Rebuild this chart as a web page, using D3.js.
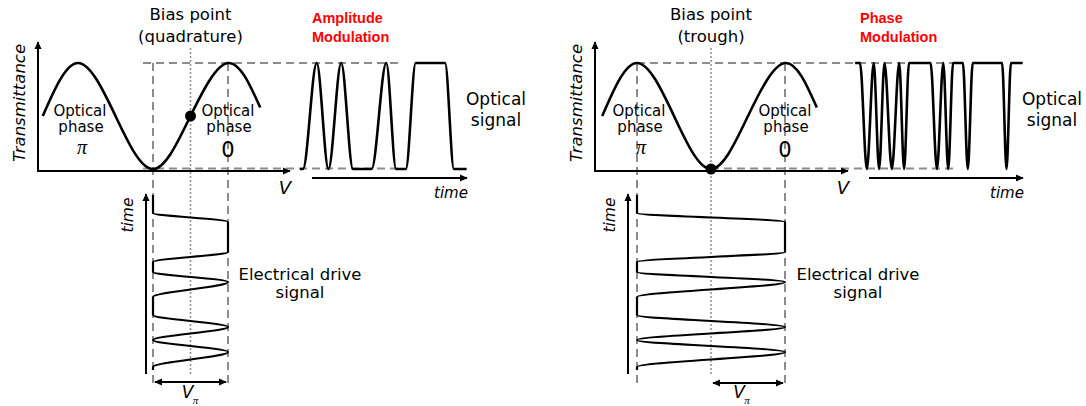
<!DOCTYPE html>
<html>
<head>
<meta charset="utf-8">
<script src="https://cdn.jsdelivr.net/npm/d3@7"></script>
<style>
body { margin: 0; background: #fff; }
text { font-family: "DejaVu Sans", sans-serif; fill: #000; }
</style>
</head>
<body>
<script>
// transfer curve of the modulator, V in units of V_pi (trough at 0)
var curveV = [-1.47, -1, -0.5, 0, 0.5, 1, 1.43];
var curveT = [0.5, 1, 0.5, 0, 0.5, 1, 0.58];

// bias points: quadrature (left) and trough (right)
var biasV = [0.5, 0];
var biasT = [0.5, 0];

// electrical drive signal, time runs upwards
var driveTime = [-3, 0, 15, 27, 40, 52, 70, 85, 95, 105, 115, 145, 154, 172];
var driveAM = [0, 0, 1, 0, 1, 0, 0, 1, 0, 0, 1, 1, 0, 0];
var drivePM = [-1, -1, 1, -1, 1, -1, -1, 1, -1, -1, 1, 1, -1, -1];

// optical output signals
var amTime = [-2, 1, 15, 27, 40, 52, 71, 86, 96, 106, 116, 146, 155, 168];
var amLevel = [0, 0, 1, 0, 1, 0, 0, 1, 0, 0, 1, 1, 0, 0];
var pmTime = [-5, 0, 7, 14, 19.5, 25, 32.5, 40, 45, 50, 72, 78.5, 85, 90, 95, 105, 110, 115, 145, 149.5, 154, 166];
var pmLevel = [1, 1, 0, 1, 0, 1, 0, 1, 0, 1, 1, 0, 1, 0, 1, 1, 0, 1, 1, 0, 1, 1];

var svg = d3.select('body')
    .append('svg')
    .attr('width', 1086)
    .attr('height', 406);

var defs = svg.append('defs');
defs.append('marker')
    .attr('id', 'arr')
    .attr('viewBox', '0 -5 10 10')
    .attr('refX', 9)
    .attr('refY', 0)
    .attr('markerUnits', 'userSpaceOnUse')
    .attr('markerWidth', 8)
    .attr('markerHeight', 8)
    .attr('orient', 'auto-start-reverse')
    .append('path')
    .attr('d', 'M0,-4.5L10,0L0,4.5Z')
    .style('fill', '#000');

var grey = '#8c8c8c';
var serif = '"Liberation Serif", serif';
var yT = d3.scaleLinear().domain([0, 1]).range([169, 63]);
var yTime = d3.scaleLinear().domain([0, 170]).range([367, 197]);

var panels = [
    { xr: [153, 228], axisX: 38, axisEnd: 290, tx0: 302, drive: driveAM, optT: amTime, optL: amLevel,
      bias: 0, biasTxt: '(quadrature)', red: ['Amplitude', 'Modulation'], redX: 312,
      dashL: 143, dashR: 398, dashBotL: 143, timeAx: [312, 467], driveAx: 146,
      sigX: 496, elX: 300 },
    { xr: [711, 785], axisX: 595, axisEnd: 848, tx0: 860, drive: drivePM, optT: pmTime, optL: pmLevel,
      bias: 1, biasTxt: '(trough)', red: ['Phase', 'Modulation'], redX: 860,
      dashL: 637, dashR: 953, dashBotL: 711, timeAx: [869, 1023], driveAx: 628,
      sigX: 1052, elX: 858 }
];

function arrow(x1, y1, x2, y2, both) {
    var p = svg.append('line')
        .attr('x1', x1).attr('y1', y1)
        .attr('x2', x2).attr('y2', y2)
        .style('stroke', '#000')
        .style('stroke-width', 2)
        .attr('marker-end', 'url(#arr)');
    if (both) p.attr('marker-start', 'url(#arr)');
}

function label(x, y, s, size, opts) {
    opts = opts || {};
    var t = svg.append('text')
        .attr('x', x).attr('y', y)
        .attr('text-anchor', opts.anchor || 'middle')
        .style('font-size', size + 'px')
        .text(s);
    if (opts.italic) t.style('font-style', 'italic');
    if (opts.bold) t.style('font-weight', 'bold');
    if (opts.color) t.style('fill', opts.color);
    if (opts.family) t.style('font-family', opts.family);
    if (opts.rotate) t.attr('transform', 'rotate(-90,' + x + ',' + y + ')');
    return t;
}

panels.forEach(function(p) {
    var xV = d3.scaleLinear().domain([0, 1]).range(p.xr);
    var xt = d3.scaleLinear().domain([0, 100]).range([p.tx0, p.tx0 + 98]);
    var xPeakL = xV(-1), xPeakR = xV(1), xTrough = xV(0);
    var xBias = xV(biasV[p.bias]);
    var driveLeft = p.bias === 0 ? xTrough : xPeakL;

    // guide lines
    var dash = svg.append('g')
        .style('stroke', grey)
        .style('stroke-width', 2)
        .style('stroke-dasharray', '8,5')
        .style('fill', 'none');
    dash.append('line').attr('x1', p.dashL).attr('x2', p.dashR).attr('y1', yT(1)).attr('y2', yT(1));
    dash.append('line').attr('x1', p.dashBotL).attr('x2', p.dashR).attr('y1', yT(0) - 0.5).attr('y2', yT(0) - 0.5);
    dash.append('line').attr('x1', driveLeft).attr('x2', driveLeft).attr('y1', yT(1)).attr('y2', 385);
    dash.append('line').attr('x1', xPeakR).attr('x2', xPeakR).attr('y1', yT(1)).attr('y2', 385);

    svg.append('line')
        .attr('x1', xBias).attr('x2', xBias)
        .attr('y1', 48).attr('y2', 375)
        .style('stroke', grey)
        .style('stroke-width', 1.5)
        .style('stroke-dasharray', '2,2');

    // axes
    arrow(p.axisX, 171, p.axisX, 42);
    arrow(p.axisX - 1, 171, p.axisEnd, 171);
    arrow(p.timeAx[0], 178, p.timeAx[1], 178);
    arrow(p.driveAx, 374, p.driveAx, 194);
    if (p.bias === 0) arrow(xTrough + 2, 382, xPeakR - 2, 382, true);
    else arrow(xBias + 2, 383, xPeakR - 2, 383, true);

    // transfer curve
    var tf = d3.line()
        .x(function(d) { return xV(d); })
        .y(function(d, i) { return yT(curveT[i]); })
        .curve(d3.curveNatural);
    svg.append('path')
        .attr('d', tf(curveV))
        .style('fill', 'none')
        .style('stroke', '#000')
        .style('stroke-width', 2.6);

    // drive signal
    var dl = d3.line()
        .x(function(d, i) { return xV(p.drive[i]); })
        .y(function(d) { return yTime(d); })
        .curve(d3.curveMonotoneY);
    svg.append('path')
        .attr('d', dl(driveTime))
        .style('fill', 'none')
        .style('stroke', '#000')
        .style('stroke-width', 2.2);

    // optical signal
    var ol = d3.line()
        .x(function(d) { return xt(d); })
        .y(function(d, i) { return yT(p.optL[i]); })
        .curve(d3.curveMonotoneX);
    svg.append('path')
        .attr('d', ol(p.optT))
        .style('fill', 'none')
        .style('stroke', '#000')
        .style('stroke-width', 2.6);

    // bias dot
    svg.append('circle')
        .attr('cx', xBias)
        .attr('cy', yT(biasT[p.bias]))
        .attr('r', 5.5)
        .style('fill', '#000');

    // texts
    var cx = xBias;
    label(cx, 20, 'Bias point', 16.5);
    label(cx, 42, p.biasTxt, 16.5);
    label(p.redX, 23, p.red[0], 14.5, { anchor: 'start', bold: true, color: '#ff0000', family: '"Liberation Sans", sans-serif' });
    label(p.redX, 42, p.red[1], 14.5, { anchor: 'start', bold: true, color: '#ff0000', family: '"Liberation Sans", sans-serif' });
    label(p.sigX, 105, 'Optical', 17);
    label(p.sigX, 126, 'signal', 17);
    label(p.axisX - 13, 103, 'Transmittance', 16.5, { italic: true, rotate: true });
    label(p.axisEnd - 5, 194, 'V', 18, { italic: true });
    label(p.timeAx[1] - 16, 198, 'time', 15, { italic: true });
    label(p.driveAx - 13, 215, 'time', 15.5, { italic: true, rotate: true });

    label(xPeakL + 2, 116, 'Optical', 15);
    label(xPeakL + 3, 132, 'phase', 15);
    label(xPeakL + 4, 154, 'π', 20, { italic: true, family: serif });
    label(xPeakR, 116, 'Optical', 15);
    label(xPeakR + 1, 132, 'phase', 15);
    label(xPeakR, 157, '0', 21);

    label(p.elX, 280, 'Electrical drive', 16.5);
    label(p.elX, 298, 'signal', 16.5);

    var vx = p.bias === 0 ? (xTrough + xPeakR) / 2 - 3 : (xBias + xPeakR) / 2 - 9;
    label(vx, 398, 'V', 17, { italic: true });
    label(vx + 8, 404, 'π', 11, { italic: true, family: serif });
});
</script>
</body>
</html>
